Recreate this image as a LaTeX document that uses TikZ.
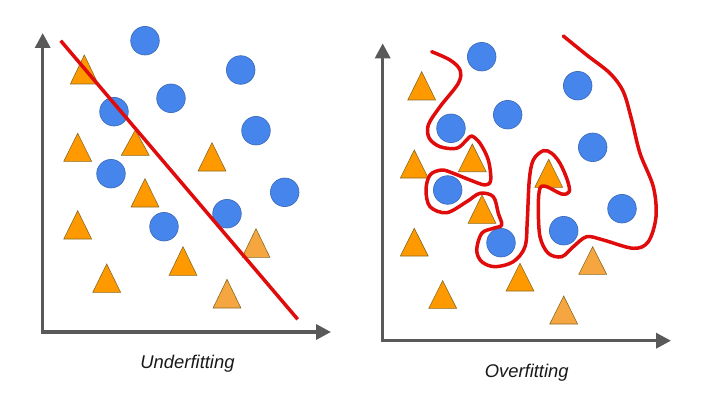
\documentclass[tikz,border=0pt]{standalone}
\usepackage{fontspec}
\setmainfont{Liberation Sans}
\usetikzlibrary{arrows.meta}
\definecolor{axisgray}{HTML}{595959}
\definecolor{dotblue}{HTML}{4585EC}
\definecolor{dotblueedge}{HTML}{3B68B5}
\definecolor{triorange}{HTML}{FF9900}
\definecolor{trilight}{HTML}{F6A640}
\definecolor{triedge}{HTML}{8A6A20}
\definecolor{fitred}{HTML}{E00C0C}
\tikzset{
  axisline/.style={draw=axisgray, line width=3.4pt, -{Triangle[length=15pt,width=15pt]}},
  dot/.style={circle, fill=dotblue, draw=dotblueedge, line width=0.6pt, minimum size=28.6pt, inner sep=0pt},
  tri/.style={fill=triorange, draw=triedge, line width=0.6pt, line join=miter},
  trilt/.style={fill=trilight, draw=triedge, line width=0.6pt, line join=miter},
  fitline/.style={draw=fitred, line width=3.5pt},
  caption/.style={font=\itshape\fontsize{18.4}{22}\selectfont, text=black!90, anchor=base, inner sep=0pt}
}
\newcommand\mytri[4]{\draw[#4] (#1-13.9,#3) -- (#1,#2) -- (#1+13.9,#3) -- cycle;}
\begin{document}
\begin{tikzpicture}[x=1pt,y=-1pt]
\useasboundingbox (0,0) rectangle (702,396);
% ---------- Left panel ----------
\coordinate (lo) at (42.7,332);
\coordinate (ly) at (42.7,33);
\coordinate (lx) at (331,332);
\draw[axisline] ([yshift=1.7pt]lo) -- (ly);
\draw[axisline] ([xshift=-1.7pt]lo) -- (lx);
% triangles
\mytri{84.3}{55}{84}{tri}
\mytri{77.7}{133.3}{161.3}{tri}
\mytri{135.3}{130}{155.3}{tri}
\mytri{212}{142.7}{171}{tri}
\mytri{145}{178.7}{207}{tri}
\mytri{77.7}{210.7}{239}{tri}
\mytri{256}{228.7}{257.3}{trilt}
\mytri{183}{246.7}{275.3}{tri}
\mytri{106.7}{264}{292.3}{tri}
\mytri{227}{279.3}{308}{trilt}
% circles
\node[dot] (la) at (145,40.7) {};
\node[dot] (lb) at (240.7,70) {};
\node[dot] (lc) at (171,98.3) {};
\node[dot] (ld) at (114,111.7) {};
\node[dot] (le) at (256,130.7) {};
\node[dot] (lf) at (111,173.7) {};
\node[dot] (lg) at (284.7,192.3) {};
\node[dot] (lh) at (227,213.7) {};
\node[dot] (li) at (164,226.7) {};
% fit line
\coordinate (fa) at (60.7,40.7);
\coordinate (fb) at (297.7,319.3);
\draw[fitline] (fa) -- (fb);
\node[caption] (under) at (187.5,368.3) {Underfitting};
% ---------- Right panel ----------
\coordinate (ro) at (382.7,340.7);
\coordinate (ry) at (382.7,43.3);
\coordinate (rx) at (671,340.7);
\draw[axisline] ([yshift=1.7pt]ro) -- (ry);
\draw[axisline] ([xshift=-1.7pt]ro) -- (rx);
% triangles
\mytri{421.7}{71.7}{100}{tri}
\mytri{414.3}{150}{178}{tri}
\mytri{472.3}{144}{171.7}{tri}
\mytri{548.7}{159.3}{187.3}{tri}
\mytri{482}{195}{223.3}{tri}
\mytri{414.3}{228.3}{256}{tri}
\mytri{592.7}{246.7}{274.3}{trilt}
\mytri{520}{263.3}{291}{tri}
\mytri{442.7}{280.7}{308.3}{tri}
\mytri{563.7}{296}{324}{trilt}
% circles
\node[dot] (ra) at (481.7,56.7) {};
\node[dot] (rb) at (577.7,85.7) {};
\node[dot] (rc) at (507.7,114.7) {};
\node[dot] (rd) at (451,128.3) {};
\node[dot] (re) at (592.7,147.3) {};
\node[dot] (rf) at (447.7,190) {};
\node[dot] (rg) at (622,208.7) {};
\node[dot] (rh) at (563.7,230.7) {};
\node[dot] (ri) at (501,242.7) {};
% overfit curve
\draw[fitline, line cap=round, line join=round] plot[smooth, tension=0.55] coordinates {
(431.7,51.7) (450,60) (460,70) (458.3,83.3) (440,106.7) (428.3,125)
(429.3,138.3) (440,146.7) (456.7,148.3) (466.7,140) (471.7,136) (480,143.3)
(488.3,160) (490.7,180) (485,185) (470,180) (453.3,173.3) (441.7,170)
(430,175) (426,190) (430,206.7) (446.7,212.7) (466.7,201.7) (480,193.3)
(493.3,196.7) (498.3,213.3) (501.7,225) (493.3,228.3) (481.7,233.3) (476.7,250)
(481.7,261.7) (495,266.7) (513.3,261.7) (525,246.7) (527.3,220) (529.3,180)
(533.3,160) (543.3,150.7) (551.7,153.3) (560,163.3) (567.3,180) (569.3,191.7)
(561.7,194) (546.7,186.7) (540,188.3) (538.3,206.7) (540,236.7) (548.3,253.3)
(561.7,256.7) (573.3,246.7) (586.7,236.7) (603.3,240) (633.3,248.3) (648.3,241.7)
(656,216.7) (653.3,186.7) (640,153.3) (631.7,120) (623.3,91.7) (610,73.3)
(586.7,55) (563.3,36)};
\node[caption] (over) at (526.7,377.7) {Overfitting};
\end{tikzpicture}
\end{document}
